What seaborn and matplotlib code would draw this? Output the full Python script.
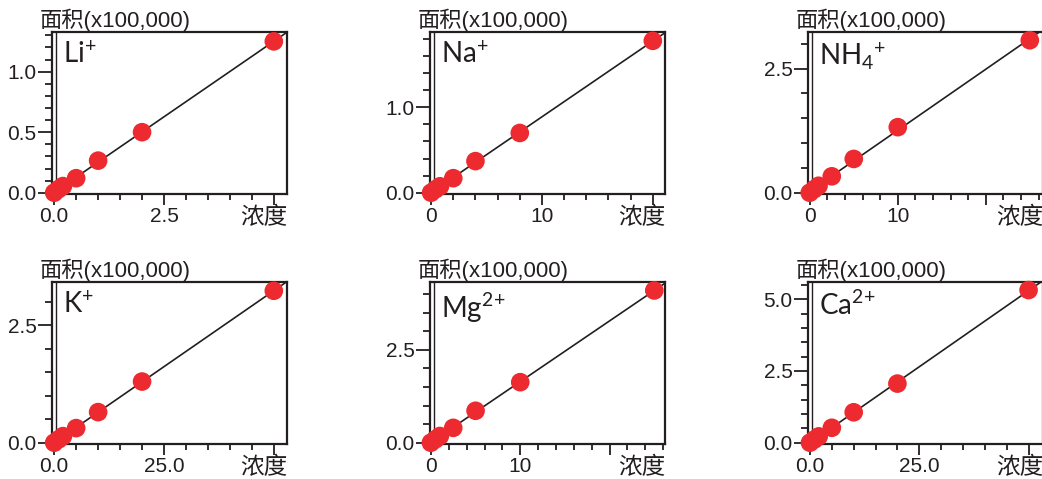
import matplotlib
matplotlib.use('Agg')
import matplotlib.pyplot as plt
import seaborn as sns
import numpy as np
from matplotlib.ticker import FixedLocator, MultipleLocator

# Datos de las curvas de calibración (concentración vs área x100,000)
ion_labels = ['Li$^{+}$', 'Na$^{+}$', 'NH$_{4}$$^{+}$', 'K$^{+}$', 'Mg$^{2}$$^{+}$', 'Ca$^{2}$$^{+}$']

conc_li = [0, 0.1, 0.2, 0.5, 1, 2, 5]
area_li = [0.0, 0.03, 0.055, 0.12, 0.265, 0.50, 1.25]

conc_na = [0, 0.4, 0.8, 2, 4, 8, 20]
area_na = [0.0, 0.04, 0.075, 0.17, 0.37, 0.70, 1.78]

conc_nh4 = [0, 0.5, 1, 2.5, 5, 10, 25]
area_nh4 = [0.0, 0.07, 0.14, 0.33, 0.68, 1.32, 3.07]

conc_k = [0, 1, 2, 5, 10, 20, 50]
area_k = [0.0, 0.07, 0.14, 0.31, 0.65, 1.30, 3.23]

conc_mg = [0, 0.5, 1, 2.5, 5, 10, 25]
area_mg = [0.0, 0.09, 0.18, 0.40, 0.86, 1.63, 4.10]

conc_ca = [0, 1, 2, 5, 10, 20, 50]
area_ca = [0.0, 0.11, 0.22, 0.52, 1.06, 2.06, 5.32]

concs = [conc_li, conc_na, conc_nh4, conc_k, conc_mg, conc_ca]
areas = [area_li, area_na, area_nh4, area_k, area_mg, area_ca]

# Ejes
x_lims = [(-0.05, 5.3), (-0.1, 21.1), (-0.2, 26.5), (-0.5, 53.0), (-0.1, 26.2), (-0.45, 53.3)]
y_lims = [(-0.013, 1.325), (-0.019, 1.88), (-0.032, 3.23), (-0.034, 3.41), (-0.043, 4.32), (-0.056, 5.59)]
x_ticks = [[0, 2.5, 5], [0, 10, 20], [0, 10, 20], [0, 25, 50], [0, 10, 20], [0, 25, 50]]
x_ticklabels = [['0.0', '2.5', ''], ['0', '10', ''], ['0', '10', ''],
                ['0.0', '25.0', ''], ['0', '10', ''], ['0.0', '25.0', '']]
x_minor = [0.5, 2, 2, 5, 2, 5]
y_ticks = [[0, 0.5, 1.0], [0, 1.0], [0, 2.5], [0, 2.5], [0, 2.5], [0, 2.5, 5.0]]
y_minor = [0.1, 0.2, 0.5, 0.5, 0.5, 0.5]

ROJO = '#ec2a2f'
TINTA = '#231f20'

sns.set_theme(style='ticks')
plt.rcParams['font.family'] = ['Liberation Sans', 'Noto Sans CJK SC']
plt.rcParams['mathtext.default'] = 'regular'

W, H = 1042, 479
fig = plt.figure(figsize=(W / 100, H / 100), dpi=100)
lefts = [52, 430, 808]
tops = [32.3, 282.3]
aw, ah = 235, 162

for i in range(6):
    r, c = divmod(i, 3)
    ax = fig.add_axes([lefts[c] / W, 1 - (tops[r] + ah) / H, aw / W, ah / H])
    ax.set_xlim(x_lims[i])
    ax.set_ylim(y_lims[i])

    # recta de regresión hasta el borde del eje
    sns.regplot(x=np.array(concs[i]), y=np.array(areas[i]), ax=ax, ci=None,
                truncate=False, scatter=False,
                line_kws={'color': TINTA, 'lw': 1.2, 'zorder': 2})
    ax.scatter(concs[i], areas[i], s=180, color=ROJO, edgecolors='none',
               zorder=3, clip_on=False)
    ax.set_xlim(x_lims[i])
    ax.set_ylim(y_lims[i])

    ax.xaxis.set_major_locator(FixedLocator(x_ticks[i]))
    ax.set_xticklabels(x_ticklabels[i])
    ax.xaxis.set_minor_locator(MultipleLocator(x_minor[i]))
    ax.yaxis.set_major_locator(FixedLocator(y_ticks[i]))
    ax.set_yticklabels([f'{v:.1f}' for v in y_ticks[i]])
    ax.yaxis.set_minor_locator(MultipleLocator(y_minor[i]))

    ax.tick_params(axis='both', which='major', labelsize=15, colors=TINTA, width=1.3)
    ax.tick_params(axis='x', which='major', length=8, pad=1)
    ax.tick_params(axis='y', which='major', length=10, pad=1)
    ax.tick_params(axis='x', which='minor', length=4, width=1.3, color=TINTA)
    ax.tick_params(axis='y', which='minor', length=5, width=1.3, color=TINTA)
    ax.set_xlabel('')
    ax.set_ylabel('')

    for lado in ax.spines.values():
        lado.set_linewidth(1.6)
        lado.set_color(TINTA)
    # doble línea del eje izquierdo
    ax.plot([0.016, 0.016], [0, 1], transform=ax.transAxes, color=TINTA, lw=1.0, clip_on=False)

    ax.text(-0.051, 1.0, '面积(x100,000)', transform=ax.transAxes, ha='left', va='bottom',
            fontsize=16, color=TINTA)
    ax.text(1.0, -0.07, '浓度', transform=ax.transAxes, ha='right', va='top',
            fontsize=17, color=TINTA, family=['Noto Sans CJK SC'])
    ax.text(0.045, 0.945, ion_labels[i], transform=ax.transAxes, ha='left', va='top',
            fontsize=20, color=TINTA, family=['Lato'], weight='normal')

fig.savefig('out.png', dpi=100)
